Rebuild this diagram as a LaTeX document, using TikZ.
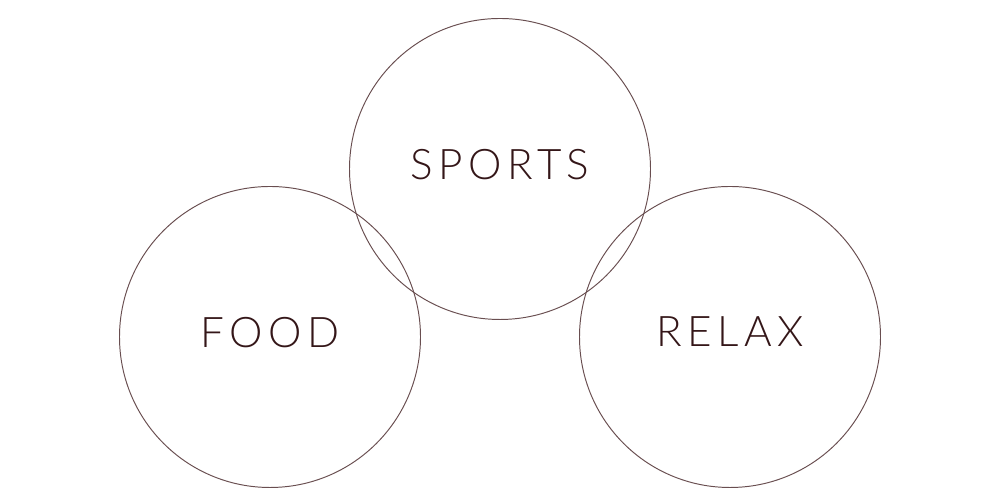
\documentclass[tikz,border=0pt]{standalone}
\usepackage{fontspec}
\setmainfont{Lato Light}[LetterSpace=13]
\usepackage{tikz}
\usetikzlibrary{positioning}
\definecolor{ringline}{RGB}{105,78,80}
\definecolor{wordink}{RGB}{52,22,24}

\begin{document}
\begin{tikzpicture}[font=\fontsize{24}{28}\selectfont,
  ring/.style={draw=ringline, line width=0.55pt, circle, minimum size=6.02cm, inner sep=0pt,
    text=wordink, text depth=0.2cm}]
\useasboundingbox (0,0) rectangle (20,10);
\node[ring] (sports) at (10,6.62) {SPORTS};
\node[ring] (food) at (5.4,3.26) {FOOD};
\node[ring] (relax) at (14.6,3.26) {RELAX};
\end{tikzpicture}
\end{document}
